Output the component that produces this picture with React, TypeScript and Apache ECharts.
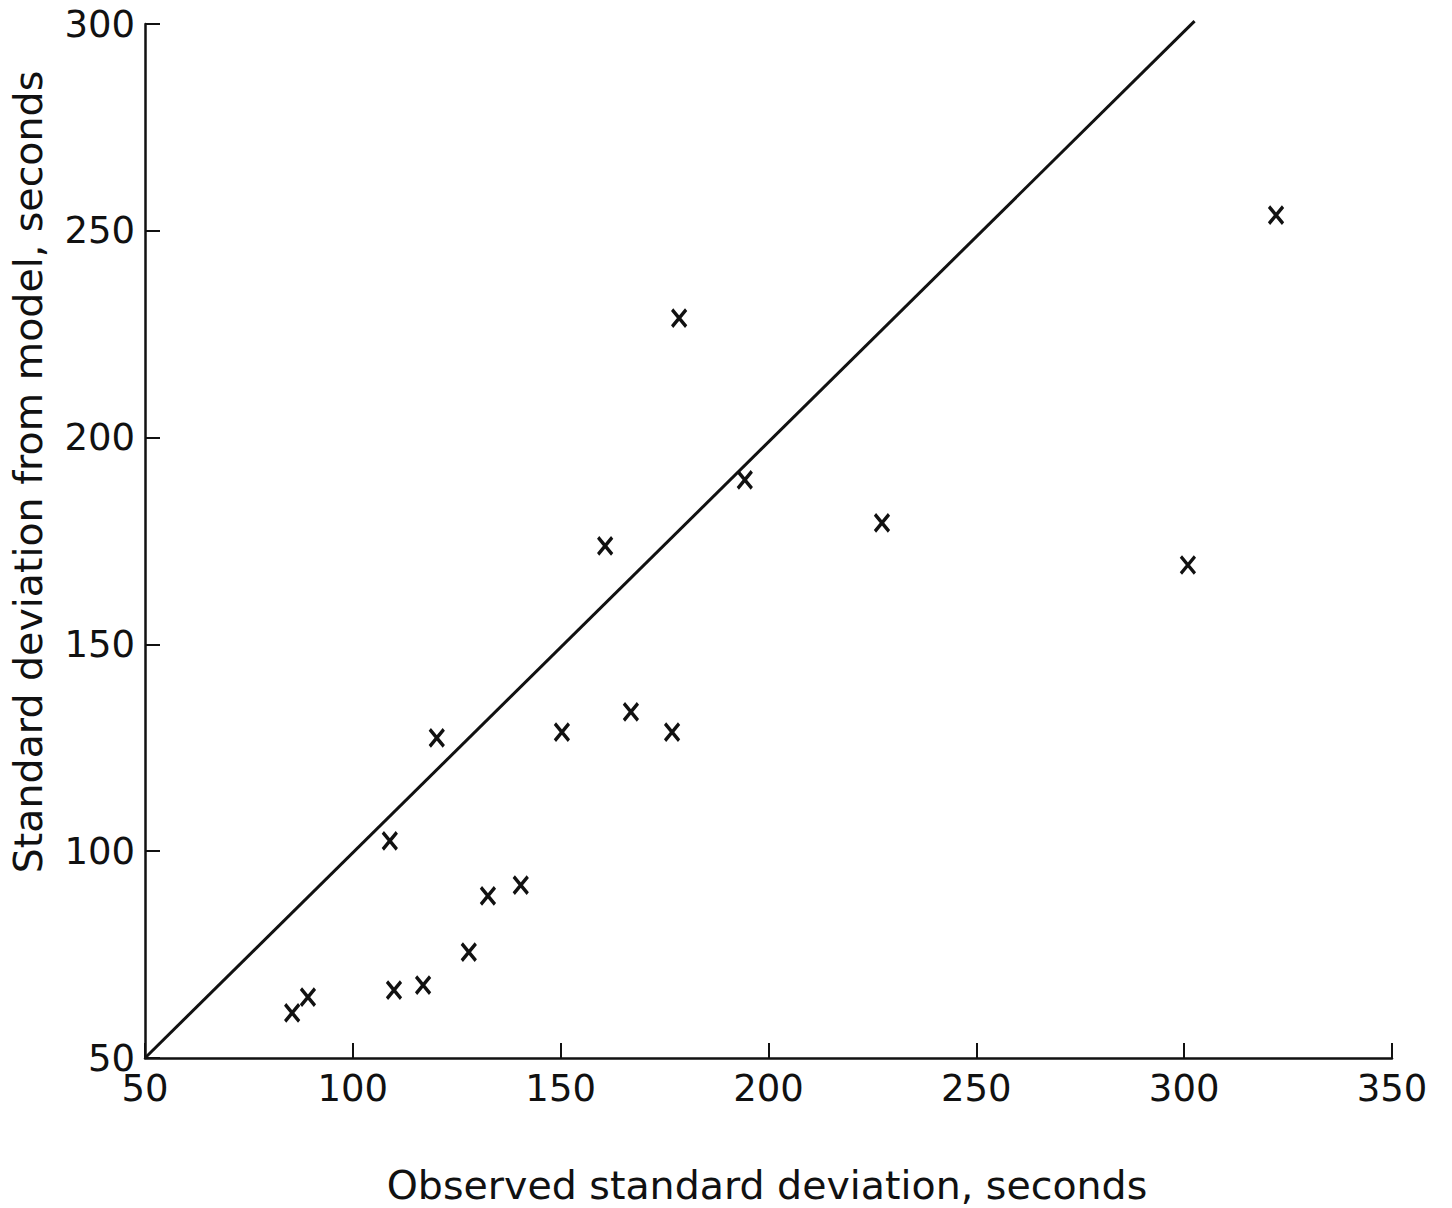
import React, { useEffect, useRef } from "react";
import * as echarts from "echarts";

const observed = [85.4, 89.2, 109.9, 116.9, 127.9, 132.5, 140.4, 108.9, 120.2, 150.3, 166.9, 176.8, 160.7, 178.5, 194.3, 227.3, 300.9, 322.1];
const modeled = [60.9, 64.7, 66.4, 67.6, 75.6, 89.2, 91.8, 102.5, 127.4, 128.8, 133.7, 128.8, 173.8, 228.9, 189.8, 179.4, 169.2, 253.8];
const lineX = [50, 302.5];
const lineY = [50, 300.7];
const xTitle = "Observed standard deviation, seconds";
const yTitle = "Standard deviation from model, seconds";

const FONT = "DejaVu Sans";
const INK = "#111111";

export default function App() {
  const ref = useRef<HTMLDivElement>(null);
  useEffect(() => {
    if (!ref.current) return;
    const chart = echarts.init(ref.current, undefined, { renderer: "svg" });
    chart.setOption({
      animation: false,
      backgroundColor: "#ffffff",
      grid: { left: 145, top: 24, right: 60, bottom: 150 },
      xAxis: {
        type: "value",
        min: 50,
        max: 350,
        interval: 50,
        axisLine: { lineStyle: { color: INK, width: 2.5 } },
        axisTick: { inside: true, length: 15, lineStyle: { color: INK, width: 2 } },
        axisLabel: { color: INK, fontFamily: FONT, fontSize: 37, margin: 12 },
        splitLine: { show: false },
      },
      yAxis: {
        type: "value",
        min: 50,
        max: 300,
        interval: 50,
        axisLine: { show: true, lineStyle: { color: INK, width: 2.5 } },
        axisTick: { show: true, inside: true, length: 15, lineStyle: { color: INK, width: 2 } },
        axisLabel: { color: INK, fontFamily: FONT, fontSize: 37, margin: 10 },
        splitLine: { show: false },
      },
      graphic: [
        {
          type: "text",
          x: 767,
          y: 1185,
          style: {
            text: xTitle,
            fontFamily: FONT,
            fontSize: 39.5,
            fill: INK,
            textAlign: "center",
            textVerticalAlign: "middle",
          },
        },
        {
          type: "text",
          x: 28,
          y: 472,
          rotation: Math.PI / 2,
          style: {
            text: yTitle,
            fontFamily: FONT,
            fontSize: 39.5,
            fill: INK,
            textAlign: "center",
            textVerticalAlign: "middle",
          },
        },
      ],
      series: [
        {
          type: "line",
          data: lineX.map((x, i) => [x, lineY[i]]),
          showSymbol: false,
          clip: false,
          lineStyle: { color: INK, width: 3 },
          silent: true,
        },
        {
          type: "scatter",
          data: observed.map((x, i) => [x, modeled[i]]),
          symbol: "path://M0,0L10,12M10,0L0,12",
          symbolSize: [14, 17],
          itemStyle: { color: "rgba(0,0,0,0)", borderColor: INK, borderWidth: 3.5, opacity: 1 },
        },
      ],
    });
    return () => chart.dispose();
  }, []);
  return (
    <div
      ref={ref}
      style={{ position: "fixed", left: 0, top: 0, width: 1452, height: 1208, background: "#fff" }}
    />
  );
}
